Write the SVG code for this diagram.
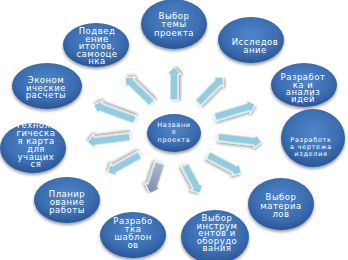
<svg xmlns="http://www.w3.org/2000/svg" width="348" height="260" viewBox="0 0 348 260">
<defs>
<radialGradient id="g" cx="50%" cy="40%" r="60%">
<stop offset="0" stop-color="#4F87C9"/>
<stop offset="0.7" stop-color="#3A6CB0"/>
<stop offset="1" stop-color="#2A5593"/>
</radialGradient>
<linearGradient id="ga" x1="0" y1="0" x2="1" y2="0">
<stop offset="0" stop-color="#A9B9D2"/>
<stop offset="1" stop-color="#7A8EAE"/>
</linearGradient>
<filter id="sh" x="-20%" y="-20%" width="140%" height="150%">
<feGaussianBlur in="SourceAlpha" stdDeviation="1.5"/>
<feOffset dy="2" result="b"/>
<feComponentTransfer><feFuncA type="linear" slope="0.4"/></feComponentTransfer>
<feMerge><feMergeNode/><feMergeNode in="SourceGraphic"/></feMerge>
</filter>
</defs>
<style>
.n ellipse{fill:url(#g);filter:url(#sh)}
.n text{fill:#fff;font-family:"DejaVu Sans",sans-serif;font-size:8.5px;text-anchor:middle;letter-spacing:0.5px}
.n text.s{font-size:6.5px;letter-spacing:0.7px}
.a polygon{fill:#93CDDD;stroke:#fff;stroke-width:1;filter:url(#sh)}
.a polygon.d{fill:url(#ga)}
</style>
<g id="connectors" class="a">
<polygon transform="translate(174,100) rotate(-90)" points="0,-4 26,-4 26,-7 33,0 26,7 26,4 0,4"/>
<polygon transform="translate(152,103) rotate(-136)" points="0,-4 30,-4 30,-7 37,0 30,7 30,4 0,4"/>
<polygon transform="translate(135,120) rotate(-160)" points="0,-4 37,-4 37,-7 44,0 37,7 37,4 0,4"/>
<polygon transform="translate(198,103) rotate(-46)" points="0,-4 29,-4 29,-7 36,0 29,7 29,4 0,4"/>
<polygon transform="translate(215,117) rotate(-17)" points="0,-4 35,-4 35,-7 42,0 35,7 35,4 0,4"/>
<polygon transform="translate(130,137) rotate(173)" points="0,-4 36,-4 36,-7 43,0 36,7 36,4 0,4"/>
<polygon transform="translate(140,155) rotate(151)" points="0,-4 30,-4 30,-7 37,0 30,7 30,4 0,4"/>
<polygon class="d" transform="translate(160,163) rotate(108)" points="0,-5 24,-5 24,-8 32,0 24,8 24,5 0,5"/>
<polygon transform="translate(218,137) rotate(6.5)" points="0,-4 37,-4 37,-7 44,0 37,7 37,4 0,4"/>
<polygon transform="translate(208,155) rotate(28)" points="0,-4 31,-4 31,-7 38,0 31,7 31,4 0,4"/>
<polygon transform="translate(185,165) rotate(62)" points="0,-4 25,-4 25,-7 32,0 25,7 25,4 0,4"/>
</g>
<g id="n-center" class="n"><ellipse cx="174" cy="133" rx="27" ry="19"/>
<text class="s" x="174" y="127">Названи</text><text class="s" x="174" y="134">е</text><text class="s" x="174" y="142">проекта</text></g>
<g id="n-tema" class="n"><ellipse cx="174" cy="24" rx="33" ry="25"/>
<text x="174" y="18.5">Выбор</text><text x="174" y="27">темы</text><text x="174" y="35.5">проекта</text></g>
<g id="n-issled" class="n"><ellipse cx="251" cy="40" rx="33" ry="23"/>
<text x="255" y="45">Исследов</text><text x="255" y="53">ание</text></g>
<g id="n-idei" class="n"><ellipse cx="304" cy="85" rx="33" ry="22"/>
<text x="303" y="80">Разработ</text><text x="303" y="87.5">ка и</text><text x="303" y="94.5">анализ</text><text x="303" y="101.5">идей</text></g>
<g id="n-chertezh" class="n"><ellipse cx="313" cy="138" rx="32" ry="29"/>
<text class="s" x="311" y="142">Разработк</text><text class="s" x="311" y="149">а чертежа</text><text class="s" x="311" y="156">изделия</text></g>
<g id="n-material" class="n"><ellipse cx="281" cy="204" rx="33" ry="26"/>
<text x="281" y="200">Выбор</text><text x="281" y="208.5">материа</text><text x="281" y="216.5">лов</text></g>
<g id="n-instr" class="n"><ellipse cx="215" cy="237" rx="34" ry="27"/>
<text x="217" y="221">Выбор</text><text x="217" y="228.5">инструм</text><text x="217" y="236">ентов и</text><text x="217" y="243.5">оборудо</text><text x="217" y="251">вания</text></g>
<g id="n-shablon" class="n"><ellipse cx="133" cy="235" rx="33" ry="23"/>
<text x="133" y="224">Разрабо</text><text x="133" y="232">тка</text><text x="133" y="240">шаблон</text><text x="133" y="248">ов</text></g>
<g id="n-plan" class="n"><ellipse cx="67" cy="200" rx="33" ry="23"/>
<text x="67" y="196.5">Планир</text><text x="67" y="204.5">ование</text><text x="67" y="213">работы</text></g>
<g id="n-tehkarta" class="n"><ellipse cx="33" cy="148" rx="33" ry="25"/>
<text x="36" y="128">Техноло</text><text x="36" y="136">гическа</text><text x="36" y="144">я карта</text><text x="36" y="152">для</text><text x="36" y="160">учащих</text><text x="36" y="167">ся</text></g>
<g id="n-ekonom" class="n"><ellipse cx="47" cy="86" rx="35" ry="23"/>
<text x="46" y="83">Эконом</text><text x="46" y="90.5">ические</text><text x="46" y="98">расчеты</text></g>
<g id="n-itogi" class="n"><ellipse cx="96" cy="45" rx="33" ry="22"/>
<text x="97" y="34">Подвед</text><text x="97" y="41.5">ение</text><text x="97" y="49">итогов,</text><text x="97" y="56.5">самооце</text><text x="97" y="64">нка</text></g>
</svg>
